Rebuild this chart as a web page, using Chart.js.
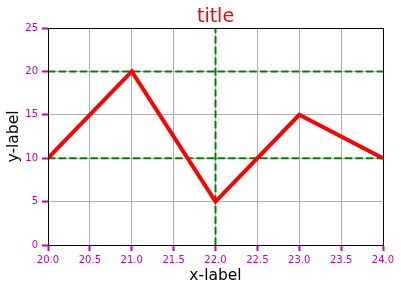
<!DOCTYPE html>
<html>
<head>
<meta charset="utf-8">
<script src="https://cdn.jsdelivr.net/npm/chart.js@4"></script>
<style>
  html, body { margin: 0; padding: 0; background: #fff; }
  #wrap { width: 401px; height: 291px; }
</style>
</head>
<body>
<div id="wrap"><canvas id="lineChart" width="401" height="291"></canvas></div>
<script>
// data
const xValues = [20, 21, 22, 23, 24];
const yValues = [10, 20, 5, 15, 10];
const hLines = [10, 20];   // green dashed horizontal lines
const vLines = [22];       // green dashed vertical line
const xRange = [20, 24];
const yRange = [0, 25];

const tickColor = "#bf00bf";
const font = "DejaVu Sans";

const datasets = [
    {
        data: xValues.map((x, i) => ({ x: x, y: yValues[i] })),
        borderColor: "#ff0000",
        borderWidth: 4,
        pointRadius: 0,
        tension: 0,
        order: 0,
    },
];

hLines.forEach((y) => {
    datasets.push({
        data: [{ x: xRange[0], y: y }, { x: xRange[1], y: y }],
        borderColor: "#008000",
        borderWidth: 2,
        borderDash: [7.4, 3.2],
        pointRadius: 0,
        order: 1,
    });
});
vLines.forEach((x) => {
    datasets.push({
        data: [{ x: x, y: yRange[0] }, { x: x, y: yRange[1] }],
        borderColor: "#008000",
        borderWidth: 2,
        borderDash: [7.4, 3.2],
        pointRadius: 0,
        order: 1,
    });
});

// top and right spines
const framePlugin = {
    id: "frame",
    afterDatasetsDraw(chart) {
        const { ctx, chartArea } = chart;
        ctx.save();
        ctx.strokeStyle = "#000";
        ctx.lineWidth = 1;
        ctx.strokeRect(
            Math.round(chartArea.left) + 0.5,
            Math.round(chartArea.top) + 0.5,
            Math.round(chartArea.right - chartArea.left),
            Math.round(chartArea.bottom - chartArea.top)
        );
        ctx.restore();
    },
};

const ctx = document.getElementById("lineChart").getContext("2d");
new Chart(ctx, {
    type: "line",
    data: { datasets: datasets },
    options: {
        responsive: false,
        animation: false,
        layout: { padding: { left: 0, right: 18, top: 0, bottom: 0 } },
        plugins: {
            legend: { display: false },
            tooltip: { enabled: false },
            title: {
                display: true,
                fullSize: false, // centre over the plot area
                text: "title",
                color: "#ff0000",
                font: { family: font, size: 19, weight: "normal", lineHeight: 1 },
                padding: { top: 8, bottom: 1 },
            },
        },
        scales: {
            x: {
                type: "linear",
                min: xRange[0],
                max: xRange[1],
                afterFit: (scale) => { scale.height = 46; },
                ticks: {
                    stepSize: 0.5,
                    color: tickColor,
                    padding: 3,
                    maxRotation: 0,
                    autoSkip: false,
                    font: { family: font, size: 10 },
                    callback: (v) => v.toFixed(1),
                },
                grid: {
                    color: "#b0b0b0",
                    lineWidth: 1,
                    tickColor: tickColor,
                    tickWidth: 2,
                    tickLength: 6,
                },
                border: { color: "#000", width: 1 },
                title: {
                    display: true,
                    text: "x-label",
                    color: "#000",
                    font: { family: font, size: 15.5 },
                    padding: { top: 0, bottom: 6 },
                },
            },
            y: {
                min: yRange[0],
                max: yRange[1],
                afterFit: (scale) => { scale.width = 48; },
                ticks: {
                    stepSize: 5,
                    color: tickColor,
                    padding: 4,
                    font: { family: font, size: 10 },
                },
                grid: {
                    color: "#b0b0b0",
                    lineWidth: 1,
                    tickColor: tickColor,
                    tickWidth: 2,
                    tickLength: 6,
                },
                border: { color: "#000", width: 1 },
                title: {
                    display: true,
                    text: "y-label",
                    color: "#000",
                    font: { family: font, size: 15.5 },
                    padding: { top: 5, bottom: 0 },
                },
            },
        },
    },
    plugins: [framePlugin],
});
</script>
</body>
</html>
